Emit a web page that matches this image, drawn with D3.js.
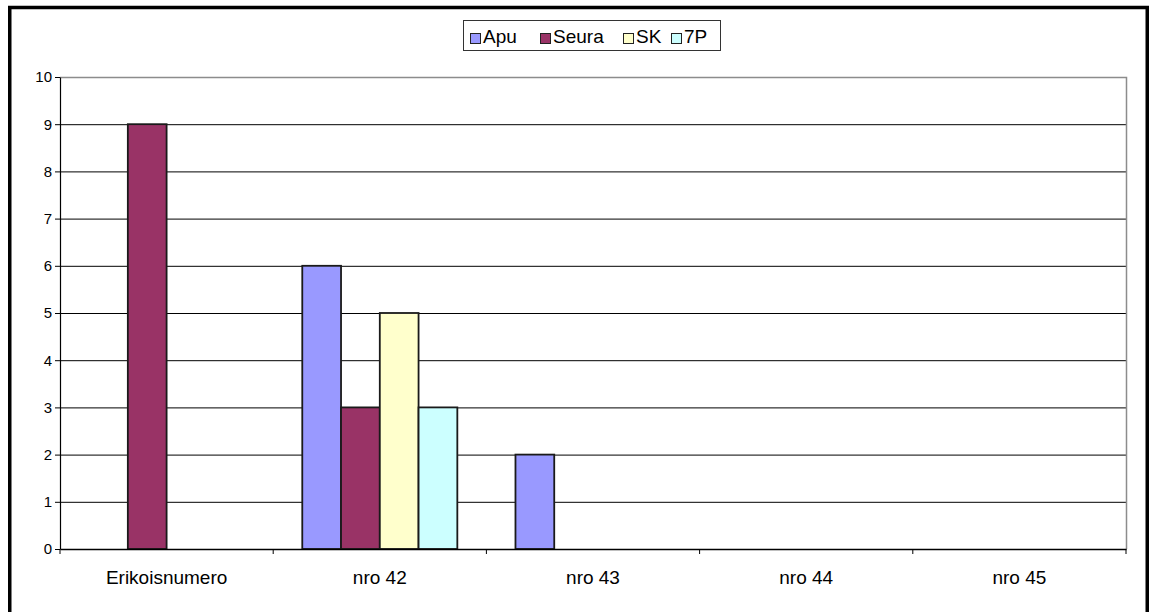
<!DOCTYPE html>
<html>
<head>
<meta charset="utf-8">
<script src="https://cdn.jsdelivr.net/npm/d3@7"></script>
<style>
  body { margin: 0; background: #fff; }
  svg { display: block; font-family: Arial, "Liberation Sans", sans-serif; }
</style>
</head>
<body>
<svg id="chart" width="1151" height="612"></svg>
<script>
// data
const categories = ['Erikoisnumero', 'nro 42', 'nro 43', 'nro 44', 'nro 45'];
const seriesNames = ['Apu', 'Seura', 'SK', '7P'];
const apu = [0, 6, 2, 0, 0];
const seura = [9, 3, 0, 0, 0];
const sk = [0, 5, 0, 0, 0];
const p7 = [0, 3, 0, 0, 0];
const yTicks = [0, 1, 2, 3, 4, 5, 6, 7, 8, 9, 10];

const seriesValues = [apu, seura, sk, p7];
const colors = ['#9999FF', '#993366', '#FFFFCC', '#CCFFFF'];

const svg = d3.select('#chart');
const plotL = 60, plotR = 1126, plotT = 77, plotB = 549;

// outer frame (bottom edge runs off the picture)
svg.append('rect')
  .attr('x', 9.75).attr('y', 7.5)
  .attr('width', 1137.5).attr('height', 640)
  .attr('fill', 'none').attr('stroke', '#000').attr('stroke-width', 3.5);

const x = d3.scaleBand().domain(categories).range([plotL, plotR]);
// excel style: gap width 150% -> 4 bars + 1.5 bar widths per category
const barW = x.bandwidth() / (seriesNames.length + 1.5);
const xs = d3.scaleBand().domain(seriesNames)
  .range([barW * 0.75, barW * 0.75 + barW * seriesNames.length]);
const y = d3.scaleLinear().domain([0, 10]).range([plotB, plotT]);

// gridlines
svg.append('g')
  .selectAll('line')
  .data(yTicks.filter(d => d > 0 && d < 10))
  .enter().append('line')
  .attr('x1', plotL).attr('x2', plotR)
  .attr('y1', d => y(d) + 0.5).attr('y2', d => y(d) + 0.5)
  .attr('stroke', '#000').attr('stroke-width', 1);

// plot area border (top & right, grey)
svg.append('path')
  .attr('d', `M${plotL},${y(10) + 0.5}H${plotR + 0.5}V${plotB}`)
  .attr('fill', 'none').attr('stroke', '#8c8c8c').attr('stroke-width', 1.5);

// bars
const groups = svg.selectAll('.cat')
  .data(categories)
  .enter().append('g')
  .attr('class', 'cat')
  .attr('transform', d => `translate(${x(d)},0)`);

groups.selectAll('rect')
  .data((c, ci) => seriesNames.map((s, si) => ({ s, si, v: seriesValues[si][ci] })).filter(d => d.v > 0))
  .enter().append('rect')
  .attr('x', d => xs(d.s))
  .attr('y', d => y(d.v))
  .attr('width', xs.bandwidth())
  .attr('height', d => y(0) - y(d.v))
  .attr('fill', d => colors[d.si])
  .attr('stroke', '#1a1a1a').attr('stroke-width', 1.8);

// y axis
const yAxis = svg.append('g')
  .attr('transform', `translate(${plotL},0)`)
  .call(d3.axisLeft(y).tickValues(yTicks).tickSize(5).tickSizeOuter(0).tickFormat(d3.format('d')));
yAxis.select('.domain').attr('stroke', '#000').attr('stroke-width', 1.2);
yAxis.selectAll('.tick line').attr('stroke', '#000');
yAxis.selectAll('text').attr('font-size', 15).attr('fill', '#000').attr('x', -8)
  .attr('font-family', 'Arial, "Liberation Sans", sans-serif');

// x axis
const xAxis = svg.append('g')
  .attr('transform', `translate(0,${plotB})`)
  .call(d3.axisBottom(x).tickSize(0).tickSizeOuter(0));
xAxis.select('.domain').attr('stroke', '#000').attr('stroke-width', 1.5);
xAxis.selectAll('text').attr('font-size', 19).attr('fill', '#000').attr('y', 0).attr('dy', 34.5)
  .attr('font-family', 'Arial, "Liberation Sans", sans-serif');
// category boundary ticks
svg.append('g')
  .selectAll('line')
  .data(categories.map(c => x(c)).concat([plotR]))
  .enter().append('line')
  .attr('x1', d => d).attr('x2', d => d)
  .attr('y1', plotB).attr('y2', plotB + 5)
  .attr('stroke', '#000');

// legend
const legend = svg.append('g');
legend.append('rect')
  .attr('x', 463.5).attr('y', 20.5).attr('width', 257).attr('height', 30)
  .attr('fill', '#fff').attr('stroke', '#333').attr('stroke-width', 1);
const legendX = [470, 540, 623, 671];
const items = legend.selectAll('.item')
  .data(seriesNames)
  .enter().append('g')
  .attr('transform', (d, i) => `translate(${legendX[i]},0)`);
items.append('rect')
  .attr('x', 0.5).attr('y', 33.5).attr('width', 10).attr('height', 10)
  .attr('fill', (d, i) => colors[i]).attr('stroke', '#222');
items.append('text')
  .attr('x', 13).attr('y', 43)
  .attr('font-size', 19)
  .text(d => d);
</script>
</body>
</html>
